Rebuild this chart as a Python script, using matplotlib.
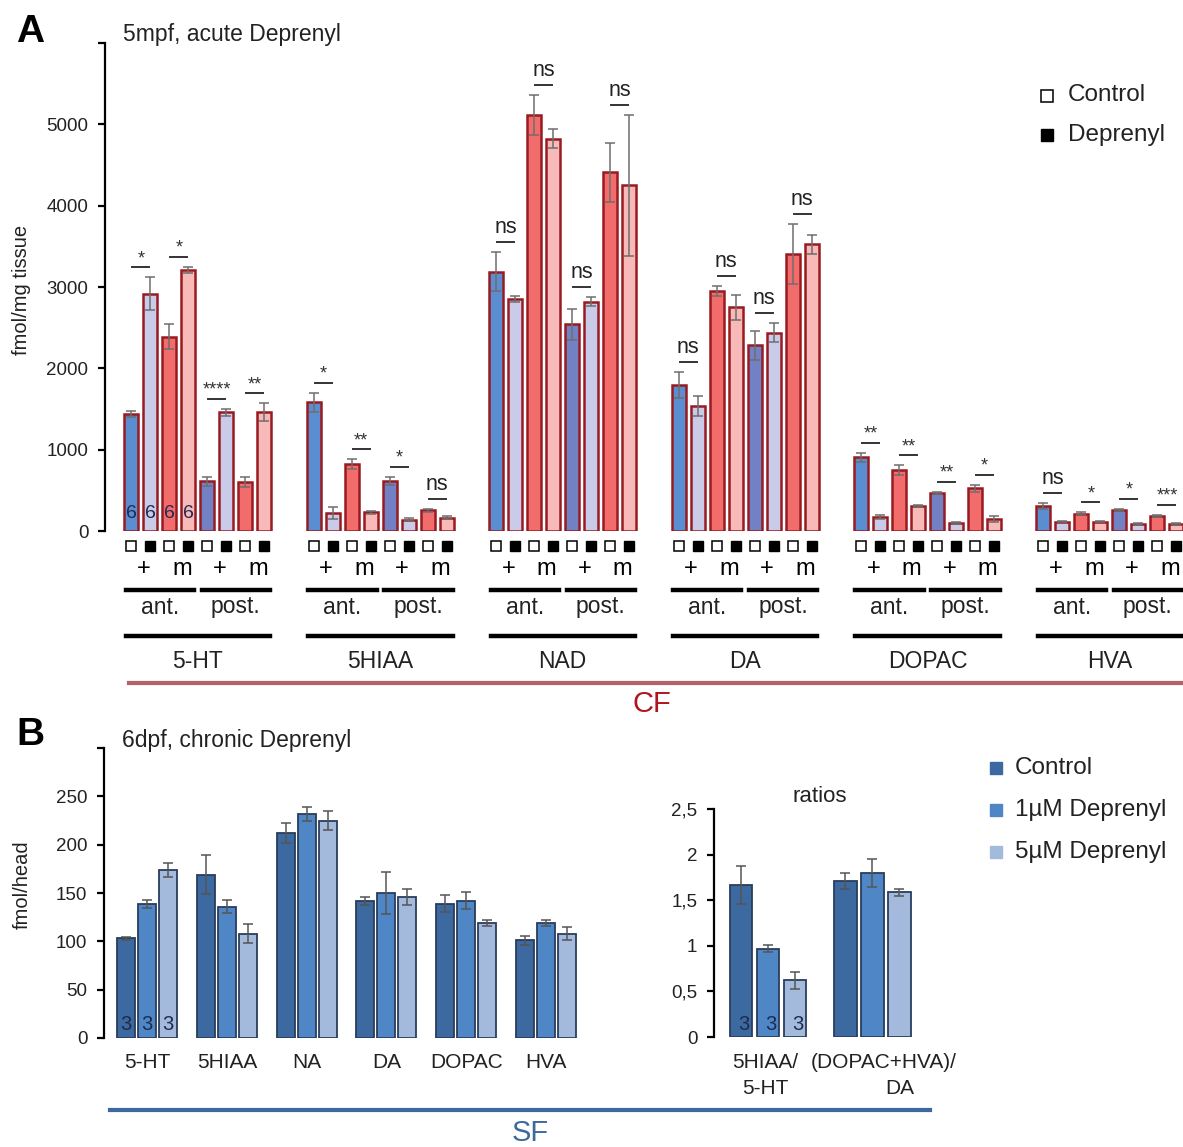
import matplotlib
matplotlib.use('Agg')
import matplotlib.pyplot as plt
from matplotlib.transforms import blended_transform_factory as btf
from matplotlib.lines import Line2D
import numpy as np

plt.rcParams['font.family'] = ['Liberation Sans', 'DejaVu Sans']

# ---------------- data: panel A (fmol/mg tissue) ----------------
groups_a = ['5-HT', '5HIAA', 'NAD', 'DA', 'DOPAC', 'HVA']
# bar order: ant.+ Ctrl, ant.+ Dep, ant.m Ctrl, ant.m Dep, post.+ Ctrl, post.+ Dep, post.m Ctrl, post.m Dep
ht5_mean = [1440, 2920, 2390, 3210, 610, 1460, 600, 1460]
ht5_err = [40, 200, 150, 40, 60, 45, 60, 110]
hiaa_mean = [1580, 220, 820, 230, 620, 140, 255, 165]
hiaa_err = [120, 75, 60, 15, 50, 15, 20, 15]
nad_mean = [3190, 2850, 5120, 4825, 2540, 2820, 4410, 4250]
nad_err = [235, 35, 245, 120, 190, 55, 360, 870]
da_mean = [1795, 1535, 2950, 2750, 2285, 2440, 3405, 3525]
da_err = [160, 120, 60, 150, 180, 120, 370, 120]
dopac_mean = [905, 170, 750, 305, 470, 100, 525, 145]
dopac_err = [60, 25, 60, 15, 10, 10, 45, 40]
hva_mean = [305, 115, 215, 115, 260, 85, 185, 85]
hva_err = [40, 10, 15, 10, 15, 8, 15, 8]
sig_ht5 = ['*', '*', '****', '**']
sig_hiaa = ['*', '**', '*', 'ns']
sig_nad = ['ns', 'ns', 'ns', 'ns']
sig_da = ['ns', 'ns', 'ns', 'ns']
sig_dopac = ['**', '**', '**', '*']
sig_hva = ['ns', '*', '*', '***']
n_a = ['6', '6', '6', '6']
treat_a = ['+', 'm']
region_a = ['ant.', 'post.']
legend_a = ['Control', 'Deprenyl']
yticks_a = [0, 1000, 2000, 3000, 4000, 5000, 6000]
yticklabels_a = ['0', '1000', '2000', '3000', '4000', '5000', '']

# ---------------- data: panel B (fmol/head) ----------------
groups_b = ['5-HT', '5HIAA', 'NA', 'DA', 'DOPAC', 'HVA']
b_ctrl = [103, 169, 212, 142, 139, 101]
b_ctrl_err = [2, 20, 10, 4, 9, 5]
b_1um = [139, 136, 232, 150, 142, 119]
b_1um_err = [4, 7, 7, 22, 9, 3]
b_5um = [174, 108, 225, 146, 119, 108]
b_5um_err = [7, 10, 10, 8, 3, 7]
yticks_b = [0, 50, 100, 150, 200, 250, 300]
yticklabels_b = ['0', '50', '100', '150', '200', '250', '']

groups_r = ['5HIAA/', '(DOPAC+HVA)/']
groups_r2 = ['5-HT', 'DA']
r_ctrl = [1.67, 1.71]
r_ctrl_err = [0.21, 0.085]
r_1um = [0.97, 1.80]
r_1um_err = [0.04, 0.155]
r_5um = [0.62, 1.585]
r_5um_err = [0.095, 0.04]
yticks_r = [0, 0.5, 1, 1.5, 2, 2.5]
yticklabels_r = ['0', '0,5', '1', '1,5', '2', '2,5']
n_b = ['3', '3', '3']
legend_b = ['Control', '1µM Deprenyl', '5µM Deprenyl']

# ---------------- layout helpers ----------------
W, H = 1183, 1147
def fx(p):
    return p / W
def fy(p):
    return 1 - p / H

fig = plt.figure(figsize=(W / 100, H / 100), dpi=100)
fig.patch.set_facecolor('white')

def style_axis(a, lw=1.6, ls=13.5):
    for s in ['top', 'right', 'bottom']:
        a.spines[s].set_visible(False)
    a.spines['left'].set_linewidth(lw)
    a.tick_params(axis='y', direction='out', length=5, width=lw, labelsize=ls, pad=7,
                  labelcolor='#222222')
    a.set_xticks([])
    a.patch.set_alpha(0)

# ================= Panel A =================
ax = fig.add_axes([fx(105), fy(531), fx(1190) - fx(105), fy(43) - fy(531)])
style_axis(ax)
ax.set_ylim(0, 6000)
ax.set_yticks(yticks_a)
ax.set_yticklabels(yticklabels_a)
pitch_a = 9.6
bw = 0.74
ax.set_xlim(-1.39, -1.39 + (1190 - 105) / 19.0)

fills_a = ['#5b8ed0', '#c9cbe9', '#f36c6c', '#f8b9b9',
           '#7280c4', '#c9cbe9', '#f36c6c', '#f8b9b9']
means_a = [ht5_mean, hiaa_mean, nad_mean, da_mean, dopac_mean, hva_mean]
errs_a = [ht5_err, hiaa_err, nad_err, da_err, dopac_err, hva_err]
sigs_a = [sig_ht5, sig_hiaa, sig_nad, sig_da, sig_dopac, sig_hva]
tr = btf(ax.transData, fig.transFigure)
px_a = 6000 / 488.0  # data units per pixel

for g, (m, e, sg) in enumerate(zip(means_a, errs_a, sigs_a)):
    xs = g * pitch_a + np.arange(8)
    ax.bar(xs, m, width=bw, color=fills_a, edgecolor='#981b22', linewidth=1.8, zorder=2)
    ax.errorbar(xs, m, yerr=e, fmt='none', ecolor='#6e6e6e', elinewidth=1.1,
                capsize=3.5, capthick=1.1, zorder=3)
    for k in range(4):
        i0 = 2 * k
        top = max(m[i0] + e[i0], m[i0 + 1] + e[i0 + 1])
        ly = top + 10 * px_a
        ax.plot([xs[i0] + 0.05, xs[i0 + 1] - 0.05], [ly, ly], color='#333333', lw=1.4,
                clip_on=False, zorder=4)
        lab = sg[k]
        if lab == 'ns':
            ax.text((xs[i0] + xs[i0 + 1]) / 2, ly + 4 * px_a, lab, ha='center', va='bottom',
                    fontsize=15.5, color='#222222', clip_on=False)
        else:
            ax.text((xs[i0] + xs[i0 + 1]) / 2, ly + 0 * px_a, lab, ha='center', va='bottom',
                    fontsize=13, color='#333333', clip_on=False)
    # squares row
    for i in range(8):
        if i % 2 == 0:
            ax.plot([xs[i]], [fy(546)], marker='s', ms=7, mfc='white', mec='black', mew=1.1,
                    transform=tr, clip_on=False)
        else:
            ax.plot([xs[i]], [fy(546)], marker='s', ms=7.5, mfc='black', mec='black', mew=1,
                    transform=tr, clip_on=False)
    for k in range(4):
        ax.text((xs[2 * k] + xs[2 * k + 1]) / 2 + 0.15, fy(569), treat_a[k % 2], ha='center',
                va='center', fontsize=17, transform=tr)
    for r in range(2):
        x0, x1 = xs[4 * r] - 0.3, xs[4 * r + 3] + 0.3
        fig.add_artist(Line2D([x0, x1], [fy(590), fy(590)], transform=tr, color='black', lw=3.2))
        ax.text((x0 + x1) / 2, fy(607), region_a[r], ha='center', va='center', fontsize=16.5,
                transform=tr, color='#222222')
    fig.add_artist(Line2D([xs[0] - 0.3, xs[7] + 0.3], [fy(636), fy(636)], transform=tr,
                          color='black', lw=3.2))
    ax.text(xs.mean(), fy(662), groups_a[g], ha='center', va='center',
            fontsize=16.5, transform=tr, color='#222222')
    if g == 0:
        for i in range(4):
            ax.text(xs[i], fy(513), n_a[i], ha='center', va='center', fontsize=14,
                    color='#1e2a50', transform=tr, zorder=5)

fig.text(fx(30), fy(32), 'A', fontsize=28, fontweight='bold', ha='center', va='center')
fig.text(fx(123), fy(34), '5mpf, acute Deprenyl', fontsize=16.5, ha='left', va='center',
         color='#222222')
fig.text(fx(22), fy(290), 'fmol/mg tissue', fontsize=14.5, rotation=90, ha='center', va='center',
         color='#222222')

# legend A
fig.add_artist(Line2D([fx(1047)], [fy(96)], marker='s', ms=8, mfc='white', mec='black', mew=1.1,
                      transform=fig.transFigure))
fig.add_artist(Line2D([fx(1047)], [fy(135)], marker='s', ms=9, mfc='black', mec='black',
                      transform=fig.transFigure))
fig.text(fx(1068), fy(95), legend_a[0], fontsize=17.5, va='center', ha='left', color='#222222')
fig.text(fx(1068), fy(135), legend_a[1], fontsize=17.5, va='center', ha='left', color='#222222')

# CF bracket
fig.add_artist(Line2D([fx(129), fx(1183)], [fy(683), fy(683)], transform=fig.transFigure,
                      color='#b5606a', lw=3))
fig.text(fx(652), fy(704), 'CF', fontsize=21, color='#b0141e', ha='center', va='center')

# ================= Panel B =================
fills_b = ['#3c699f', '#4f86c6', '#a4badc']
edge_b = '#2a3d5c'
axb = fig.add_axes([fx(104), fy(1038), fx(592) - fx(104), fy(748) - fy(1038)])
style_axis(axb)
axb.set_ylim(0, 300)
axb.set_yticks(yticks_b)
axb.set_yticklabels(yticklabels_b)
pitch_b = 3.8
axb.set_xlim(-22 / 21.0, -22 / 21.0 + (592 - 104) / 21.0)
trb = btf(axb.transData, fig.transFigure)
xb = np.arange(len(groups_b)) * pitch_b
for j, (vals, errs) in enumerate([(b_ctrl, b_ctrl_err), (b_1um, b_1um_err), (b_5um, b_5um_err)]):
    axb.bar(xb + j, vals, width=0.86, color=fills_b[j], edgecolor=edge_b, linewidth=1.3, zorder=2)
    axb.errorbar(xb + j, vals, yerr=errs, fmt='none', ecolor='#555555', elinewidth=1.1,
                 capsize=3.5, capthick=1.1, zorder=3)
    axb.text(xb[0] + j, fy(1025), n_b[j], ha='center', va='center', fontsize=14.5,
             color='#1e2a50', transform=trb, zorder=5)
for g, name in enumerate(groups_b):
    axb.text(xb[g] + 1, fy(1062), name, ha='center', va='center', fontsize=15, transform=trb,
             color='#222222')

axr = fig.add_axes([fx(714), fy(1037), fx(917) - fx(714), fy(809) - fy(1037)])
style_axis(axr)
axr.set_ylim(0, 2.5)
axr.set_yticks(yticks_r)
axr.set_yticklabels(yticklabels_r)
pitch_r = 3.87
axr.set_xlim(-1.0, -1.0 + (917 - 714) / 27.0)
trr = btf(axr.transData, fig.transFigure)
xr = np.arange(len(groups_r)) * pitch_r
for j, (vals, errs) in enumerate([(r_ctrl, r_ctrl_err), (r_1um, r_1um_err), (r_5um, r_5um_err)]):
    axr.bar(xr + j, vals, width=0.82, color=fills_b[j], edgecolor=edge_b, linewidth=1.3, zorder=2)
    axr.errorbar(xr + j, vals, yerr=errs, fmt='none', ecolor='#555555', elinewidth=1.1,
                 capsize=3.5, capthick=1.1, zorder=3)
    axr.text(xr[0] + j + 0.1, fy(1025), n_b[j], ha='center', va='center', fontsize=14.5,
             color='#1e2a50', transform=trr, zorder=5)
axr.text(xr[0] + 0.9, fy(1062), groups_r[0], ha='center', va='center', fontsize=15, transform=trr,
         color='#222222')
axr.text(xr[0] + 0.9, fy(1088), groups_r2[0], ha='center', va='center', fontsize=15, transform=trr,
         color='#222222')
axr.text(xr[1] + 1.4, fy(1062), groups_r[1], ha='center', va='center', fontsize=15, transform=trr,
         color='#222222')
axr.text(xr[1] + 2.0, fy(1088), groups_r2[1], ha='center', va='center', fontsize=15, transform=trr,
         color='#222222')
fig.text(fx(820), fy(797), 'ratios', fontsize=16, ha='center', va='center', color='#222222')

fig.text(fx(30), fy(735), 'B', fontsize=28, fontweight='bold', ha='center', va='center')
fig.text(fx(122), fy(740), '6dpf, chronic Deprenyl', fontsize=16.5, ha='left', va='center',
         color='#222222')
fig.text(fx(22), fy(885), 'fmol/head', fontsize=14.5, rotation=90, ha='center', va='center',
         color='#222222')

# legend B
for j, lab in enumerate(legend_b):
    yy = 768 + 42 * j
    fig.add_artist(Line2D([fx(996)], [fy(yy)], marker='s', ms=9, mfc=fills_b[j], mec=fills_b[j],
                          transform=fig.transFigure))
    fig.text(fx(1015), fy(yy), lab, fontsize=17.5, va='center', ha='left', color='#222222')

# SF bracket
fig.add_artist(Line2D([fx(110), fx(930)], [fy(1110), fy(1110)], transform=fig.transFigure,
                      color='#3c6a9c', lw=3))
fig.text(fx(530), fy(1133), 'SF', fontsize=21, color='#3c6a9c', ha='center', va='center')

fig.savefig('out.png', dpi=100, facecolor='white')
